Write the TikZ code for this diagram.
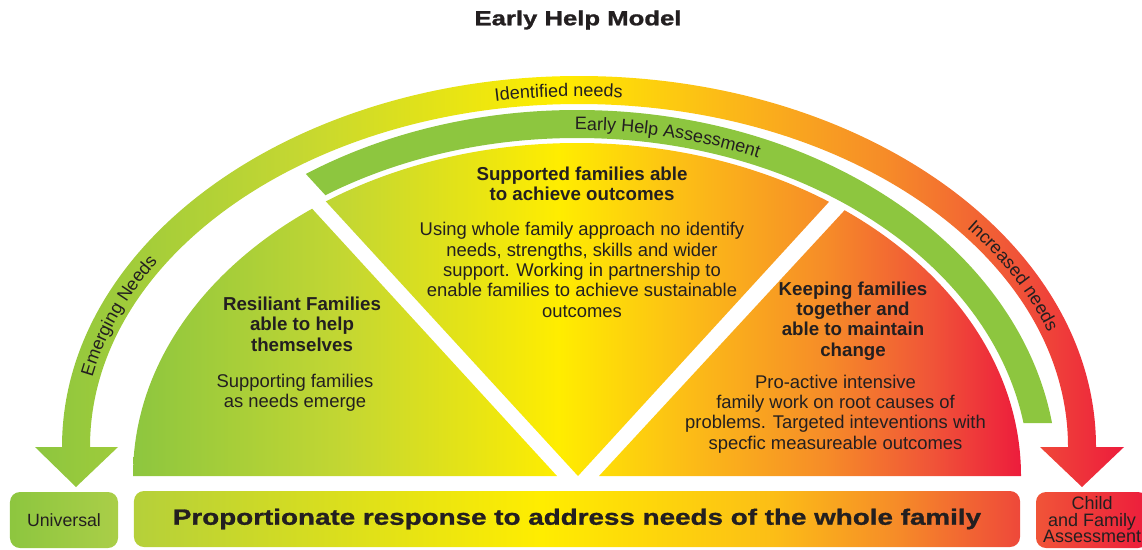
\documentclass[tikz,border=0pt]{standalone}
\usepackage{fontspec}
\setmainfont{Liberation Sans}
\newfontfamily\ehwide{Liberation Sans}[FakeStretch=1.26, FakeBold=1.2]
\usetikzlibrary{decorations.text}

\definecolor{ehgreen}{RGB}{141,198,63}
\definecolor{ehgreenlt}{RGB}{170,206,72}
\definecolor{ehlime}{RGB}{196,215,50}
\definecolor{ehbarlime}{RGB}{181,208,58}
\definecolor{ehyellow}{RGB}{255,237,0}
\definecolor{ehamber}{RGB}{252,190,22}
\definecolor{ehorange}{RGB}{246,140,40}
\definecolor{ehvermil}{RGB}{240,84,56}
\definecolor{ehbarred}{RGB}{238,72,58}
\definecolor{ehred}{RGB}{237,28,60}
\definecolor{ehtext}{RGB}{35,31,32}

\pgfdeclarehorizontalshading{ehgrad}{100bp}{color(0bp)=(ehgreen); color(25bp)=(ehgreen);
  color(37bp)=(ehlime); color(49bp)=(ehyellow); color(56bp)=(ehamber); color(64bp)=(ehorange);
  color(70bp)=(ehvermil); color(75bp)=(ehred); color(100bp)=(ehred)}
\pgfdeclarehorizontalshading{ehbar}{100bp}{color(0bp)=(ehbarlime); color(25bp)=(ehbarlime);
  color(48bp)=(ehyellow); color(61bp)=(ehamber); color(68bp)=(ehorange); color(75bp)=(ehbarred);
  color(100bp)=(ehbarred)}

\newcommand\ehband{\fontsize{12.8}{14}\selectfont\color{ehtext}}

\begin{document}
\begin{tikzpicture}[x=0.25mm, y=0.25mm,
    sechead/.style={font=\bfseries\fontsize{13.3}{14.5}\selectfont, align=center, text=ehtext, inner sep=0},
    secbody/.style={font=\fontsize{13.1}{14.5}\selectfont, align=center, text=ehtext, inner sep=0},
    ehbox/.style={rounded corners=2.5mm, minimum height=14mm, inner sep=0, text=ehtext, align=center},
    bandtext/.style={decorate, decoration={text along path, text align=center, text={|\ehband|#1}}}]

\useasboundingbox (0,0) rectangle (1142,-549);

% outer arrow: emerging -> identified -> increased needs
\shade[shading=ehgrad] (62,-447) arc[start angle=180, end angle=0, x radius=517, y radius=371]
  -- (1124,-447) -- (1082,-487) -- (1040,-447) -- (1068,-447)
  arc[start angle=0, end angle=180, x radius=489, y radius=343]
  -- (118,-447) -- (76,-487) -- (35,-447) -- cycle;

% early help assessment band
\begin{scope}
\clip (201,-60) -- (1142,-60) -- (1142,-423) -- (535,-423) -- cycle;
\fill[ehgreen, even odd rule] (577,-476) ellipse [x radius=480, y radius=366]
  (577,-476) ellipse [x radius=452, y radius=338];
\end{scope}

% three sectors
\begin{scope}
\clip (577,-476) ellipse [x radius=444, y radius=333];
\clip (100,-476) -- (557,-476) -- (240,-130) -- (100,-130) -- cycle;
\shade[shading=ehgrad] (133,-476) rectangle (1021,-140);
\end{scope}
\begin{scope}
\clip (577,-476) ellipse [x radius=444, y radius=333];
\clip (578,-476) -- (252,-121) -- (903,-121) -- cycle;
\shade[shading=ehgrad] (133,-476) rectangle (1021,-140);
\end{scope}
\begin{scope}
\clip (577,-476) ellipse [x radius=444, y radius=333];
\clip (599,-476) -- (916,-133) -- (1060,-133) -- (1060,-476) -- cycle;
\shade[shading=ehgrad] (133,-476) rectangle (1021,-140);
\end{scope}

% labels on the bands
\path[bandtext={Emerging Needs}] (579,-447) ++(179:496.5 and 350.5)
  arc[start angle=179, end angle=139, x radius=496.5, y radius=350.5];
\path[bandtext={Identified needs}] (579,-447) ++(122.5:496.5 and 350.5)
  arc[start angle=122.5, end angle=62.5, x radius=496.5, y radius=350.5];
\path[bandtext={Increased needs}] (579,-447) ++(48:496.5 and 350.5)
  arc[start angle=48, end angle=8, x radius=496.5, y radius=350.5];
\path[bandtext={Early Help Assessment}] (577,-476) ++(108:460 and 346)
  arc[start angle=108, end angle=48, x radius=460, y radius=346];

% sector texts
\node[sechead] (lefthead) at (302,-324) {Resiliant Families\\able to help\\themselves};
\node[secbody] (leftbody) at (295,-393) {Supporting families\\as needs emerge};
\node[sechead] (midhead) at (582,-184) {Supported families able\\to achieve outcomes};
\node[secbody] (midbody) at (582,-270) {Using whole family approach no identify\\needs, strengths, skills and wider\\support. Working in partnership to\\enable families to achieve sustainable\\outcomes};
\node[sechead] (righthead) at (853,-321) {Keeping families\\together and\\able to maintain\\change};
\node[secbody] (rightbody) at (835.5,-414) {Pro-active intensive\\family work on root causes of\\problems. Targeted inteventions with\\specfic measureable outcomes};

% bottom row
\node[ehbox, minimum width=27mm, left color=ehgreen, right color=ehgreenlt,
  font=\fontsize{12.6}{14}\selectfont] (universal) at (64,-520) {Universal};
\node[ehbox, minimum width=221.5mm, shade, shading=ehbar,
  font=\ehwide\bfseries\fontsize{15.7}{18}\selectfont] (response) at (577,-519)
  {Proportionate response to address needs of the whole family};
\node[ehbox, minimum width=28mm, left color=ehvermil, right color=ehred,
  font=\fontsize{12.8}{11.7}\selectfont] (childfam) at (1092,-520) {Child\\and Family\\Assessment};

% title
\node[text=ehtext, font=\ehwide\bfseries\fontsize{14.5}{17}\selectfont] (title) at (578,-20) {Early Help Model};
\end{tikzpicture}
\end{document}
